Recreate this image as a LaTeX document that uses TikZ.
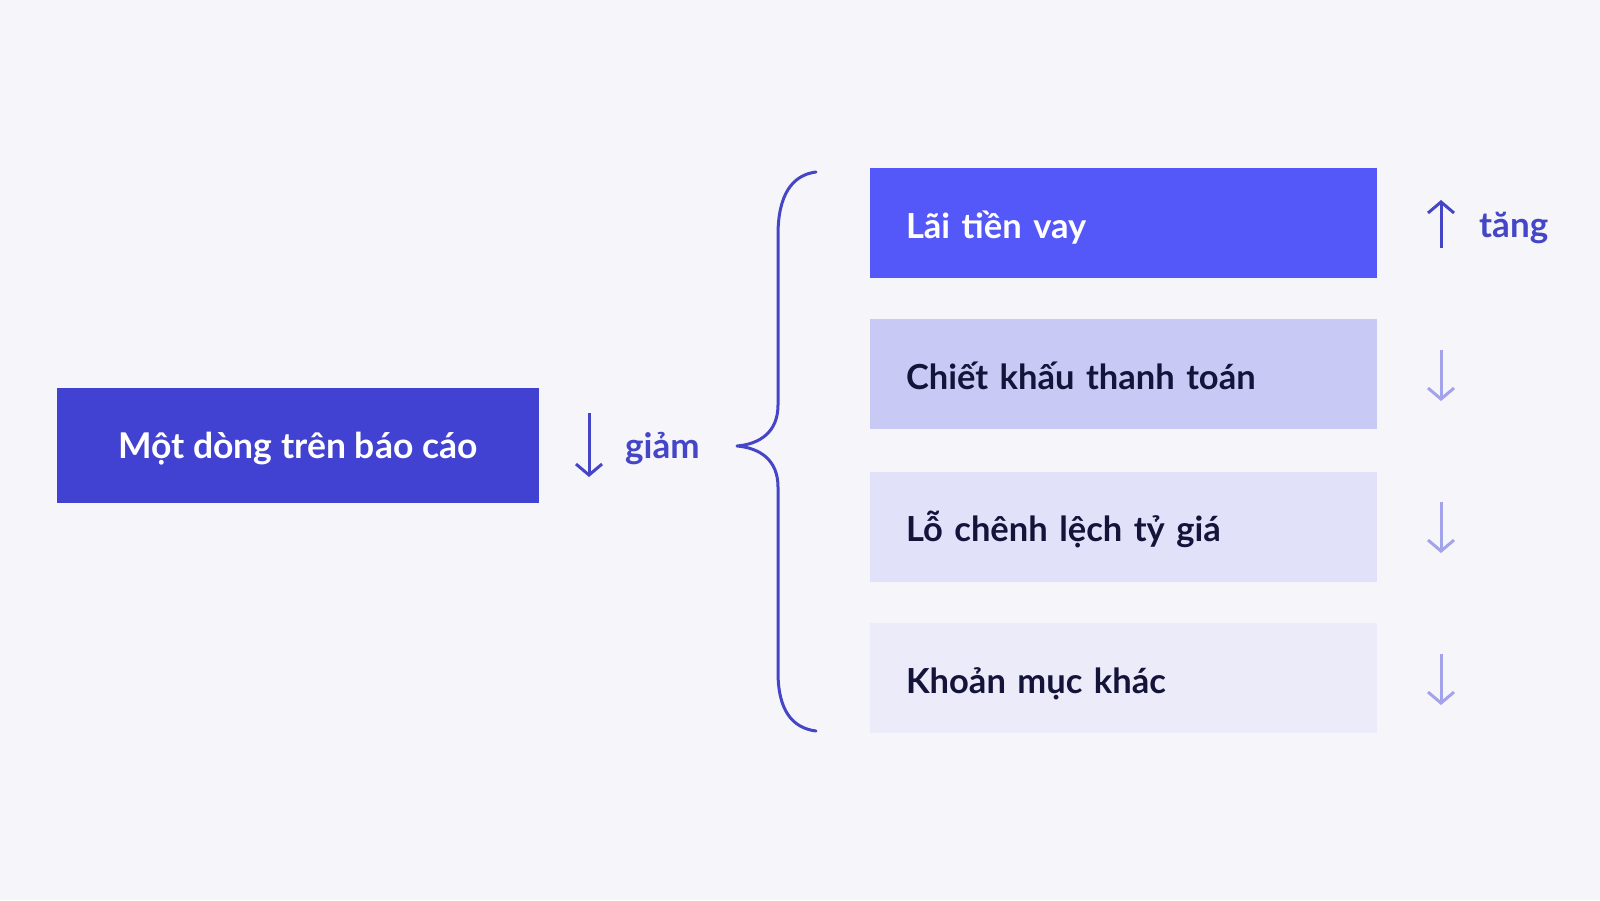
\documentclass[tikz,border=0pt]{standalone}
\usepackage{fontspec}
\setmainfont{Lato}
\usetikzlibrary{arrows.meta}
\definecolor{bgc}{HTML}{F6F6FA}
\definecolor{mainc}{HTML}{4242D2}
\definecolor{boxa}{HTML}{5558F8}
\definecolor{boxb}{HTML}{C9C9F6}
\definecolor{boxc}{HTML}{E1E1F9}
\definecolor{boxd}{HTML}{EBEBFA}
\definecolor{darkt}{HTML}{14143A}
\definecolor{indigo}{HTML}{4545C8}
\definecolor{lightarr}{HTML}{A3A3EC}
\tikzset{
  mainbox/.style={fill=mainc, text=white, font=\fontsize{35.5}{42}\selectfont\bfseries,
    minimum width=482pt, minimum height=115pt, inner sep=0pt, text height=26pt, text depth=0pt},
  itembox/.style={minimum width=507pt, minimum height=110pt, inner xsep=36pt, inner ysep=0pt,
    text width=435pt, align=left, font=\fontsize{34.5}{41}\selectfont\bfseries,
    text height=30pt, text depth=0pt},
  lbl/.style={text=indigo, font=\fontsize{35}{41}\selectfont\bfseries, inner sep=0pt},
  arr/.style={line width=3pt, -{Straight Barb[length=11pt,width=26pt]}},
  brace/.style={draw=indigo, line width=3pt, line cap=round, line join=round}
}
\begin{document}
\begin{tikzpicture}[x=1pt,y=-1pt]
\fill[bgc] (0,0) rectangle (1600,900);
\useasboundingbox (0,0) rectangle (1600,900);
% left box
\node[mainbox] (main) at (298,445.5) {Một dòng trên báo cáo};
\coordinate (g1) at (589,413);
\coordinate (g2) at (589,477);
\draw[arr, draw=indigo] (g1) -- (g2);
\node[lbl, anchor=west] (giam) at (625,449) {giảm};
% brace
\draw[brace] (816,172) .. controls (792,175) and (778,195) .. (778,235) -- (778,405)
  .. controls (778,432) and (760,444) .. (737,446)
  .. controls (760,448) and (778,460) .. (778,487) -- (778,672)
  .. controls (778,710) and (792,728) .. (816,731);
% right boxes
\node[itembox, fill=boxa, text=white] (b1) at (1123.5,223) {Lãi tiền vay};
\node[itembox, fill=boxb, text=darkt] (b2) at (1123.5,374) {Chiết khấu thanh toán};
\node[itembox, fill=boxc, text=darkt] (b3) at (1123.5,526.5) {Lỗ chênh lệch tỷ giá};
\node[itembox, fill=boxd, text=darkt] (b4) at (1123.5,678) {Khoản mục khác};
% side arrows
\coordinate (u1) at (1441,248);
\coordinate (u2) at (1441,200);
\draw[arr, draw=indigo] (u1) -- (u2);
\node[lbl, anchor=west] (tang) at (1479,228) {tăng};
\coordinate (d2a) at (1441,350);
\coordinate (d2b) at (1441,401);
\draw[arr, draw=lightarr] (d2a) -- (d2b);
\coordinate (d3a) at (1441,502);
\coordinate (d3b) at (1441,553);
\draw[arr, draw=lightarr] (d3a) -- (d3b);
\coordinate (d4a) at (1441,654);
\coordinate (d4b) at (1441,705);
\draw[arr, draw=lightarr] (d4a) -- (d4b);
\end{tikzpicture}
\end{document}
